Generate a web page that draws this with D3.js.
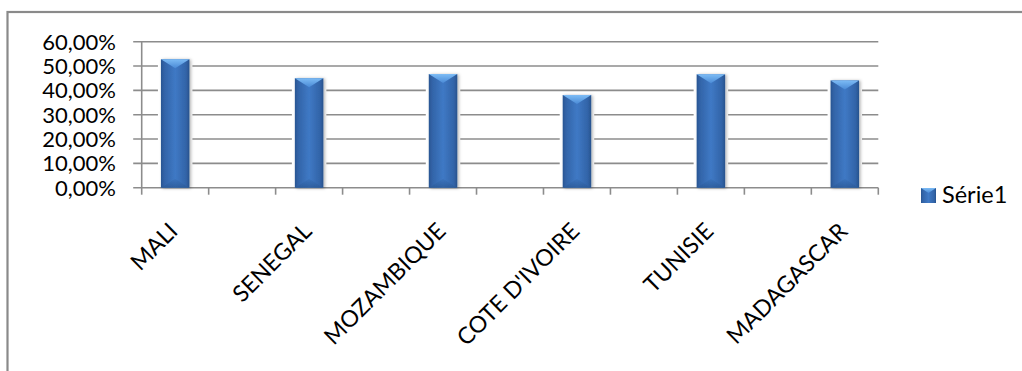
<!DOCTYPE html>
<html>
<head>
<meta charset="utf-8">
<script src="https://cdn.jsdelivr.net/npm/d3@7"></script>
<style>
  html, body { margin: 0; padding: 0; background: #fff; }
  svg { display: block; font-family: Lato, "Open Sans", sans-serif; }
</style>
</head>
<body>
<svg id="chart" width="1022" height="371"></svg>
<script>
// Category slots: the real countries alternate with empty spacer slots.
const categories = ["MALI", "", "SENEGAL", "", "MOZAMBIQUE", "", "COTE D'IVOIRE", "", "TUNISIE", "", "MADAGASCAR"];
const values = [0.528, null, 0.450, null, 0.467, null, 0.381, null, 0.466, null, 0.441];
const yTicks = [0, 0.1, 0.2, 0.3, 0.4, 0.5, 0.6];
const seriesName = "Série1";

const svg = d3.select("#chart");
const plot = { left: 141.7, right: 878.3, top: 41.7, bottom: 187.7 };

const frLocale = d3.formatLocale({ decimal: ",", thousands: " ", grouping: [3], currency: ["", " €"] });
const pct = frLocale.format(".2%");

const x = d3.scaleBand().domain(d3.range(categories.length)).range([plot.left, plot.right]).padding(0);
const y = d3.scaleLinear().domain([0, 0.6]).range([plot.bottom, plot.top]);

const defs = svg.append("defs");
const body = defs.append("linearGradient").attr("id", "barBody").attr("x1", 0).attr("x2", 1).attr("y1", 0).attr("y2", 0);
[["0%", "#285592"], ["12%", "#3264a8"], ["50%", "#3f79c5"], ["88%", "#3264a8"], ["100%", "#27528d"]]
  .forEach(([o, c]) => body.append("stop").attr("offset", o).attr("stop-color", c));
const topBevel = defs.append("linearGradient").attr("id", "barTop").attr("x1", 0).attr("x2", 0).attr("y1", 0).attr("y2", 1);
[["0%", "#7dbcf5"], ["100%", "#4a8ad6"]].forEach(([o, c]) => topBevel.append("stop").attr("offset", o).attr("stop-color", c));
const botBevel = defs.append("linearGradient").attr("id", "barBottom").attr("x1", 0).attr("x2", 0).attr("y1", 0).attr("y2", 1);
[["0%", "#3a72bb"], ["100%", "#2a5a98"]].forEach(([o, c]) => botBevel.append("stop").attr("offset", o).attr("stop-color", c));
const shadow = defs.append("filter").attr("id", "barShadow").attr("x", "-30%").attr("y", "-10%").attr("width", "160%").attr("height", "120%");
shadow.append("feDropShadow").attr("dx", 1.5).attr("dy", 0.5).attr("stdDeviation", 1.5).attr("flood-color", "#000").attr("flood-opacity", 0.3);

// Chart frame (runs off the right and bottom of the page)
svg.append("rect").attr("x", 7.5).attr("y", 12).attr("width", 1100).attr("height", 500)
  .attr("fill", "#fff").attr("stroke", "#8a8a8a").attr("stroke-width", 2.2);

// Horizontal gridlines with outward ticks
const grid = svg.append("g");
grid.selectAll("line").data(yTicks).join("line")
  .attr("x1", plot.left - 8.5).attr("x2", plot.right)
  .attr("y1", d => y(d)).attr("y2", d => y(d))
  .attr("stroke", "#8c8c8c").attr("stroke-width", 1.6);

// Vertical axis line
svg.append("line").attr("x1", plot.left).attr("x2", plot.left).attr("y1", plot.top).attr("y2", plot.bottom)
  .attr("stroke", "#8c8c8c").attr("stroke-width", 1.6);

// Category boundary ticks on the horizontal axis
const bounds = d3.range(categories.length + 1).map(i => plot.left + i * x.step());
svg.append("g").selectAll("line").data(bounds).join("line")
  .attr("x1", d => d).attr("x2", d => d).attr("y1", plot.bottom).attr("y2", plot.bottom + 7)
  .attr("stroke", "#8c8c8c").attr("stroke-width", 1.6);

// Y tick labels
svg.append("g").selectAll("text").data(yTicks).join("text")
  .attr("x", 116).attr("y", d => y(d)).attr("dy", "0.36em")
  .attr("text-anchor", "end").attr("font-size", 22).attr("fill", "#000")
  .text(d => pct(d));

// Bars
const barW = 28.5;
const points = categories.map((c, i) => ({ c, i, v: values[i] })).filter(d => d.v != null);
const bars = svg.append("g").selectAll("g").data(points).join("g")
  .attr("transform", d => `translate(${x(d.i) + x.bandwidth() / 2 - barW / 2},0)`);
bars.append("rect").attr("x", -3).attr("width", barW + 6)
  .attr("y", d => y(d.v) - 2).attr("height", d => plot.bottom - y(d.v) + 1).attr("fill", "#fff");
const barBody = bars.append("g").attr("filter", "url(#barShadow)");
barBody.append("rect").attr("width", barW).attr("y", d => y(d.v)).attr("height", d => plot.bottom - y(d.v))
  .attr("fill", "url(#barBody)");
const bev = 9;
barBody.append("path").attr("fill", "url(#barTop)")
  .attr("d", d => `M0,${y(d.v)}L${barW},${y(d.v)}L${barW / 2},${y(d.v) + bev}Z`);
barBody.append("path").attr("fill", "url(#barBottom)").attr("opacity", 0.8)
  .attr("d", `M0,${plot.bottom}L${barW},${plot.bottom}L${barW / 2},${plot.bottom - bev}Z`);

// Rotated category labels
svg.append("g").selectAll("text").data(points).join("text")
  .attr("transform", d => `translate(${x(d.i) + x.bandwidth() / 2 + 4},${plot.bottom + 45}) rotate(-45)`)
  .attr("text-anchor", "end").attr("font-size", 23).attr("fill", "#000")
  .text(d => d.c);

// Legend
const legend = svg.append("g").attr("transform", "translate(921,188)");
legend.append("rect").attr("width", 15).attr("height", 15).attr("fill", "url(#barBody)");
legend.append("path").attr("d", "M0,0L15,0L7.5,5Z").attr("fill", "url(#barTop)");
legend.append("text").attr("x", 21).attr("y", 15).attr("font-size", 23.5).attr("fill", "#000").text(seriesName);
</script>
</body>
</html>
